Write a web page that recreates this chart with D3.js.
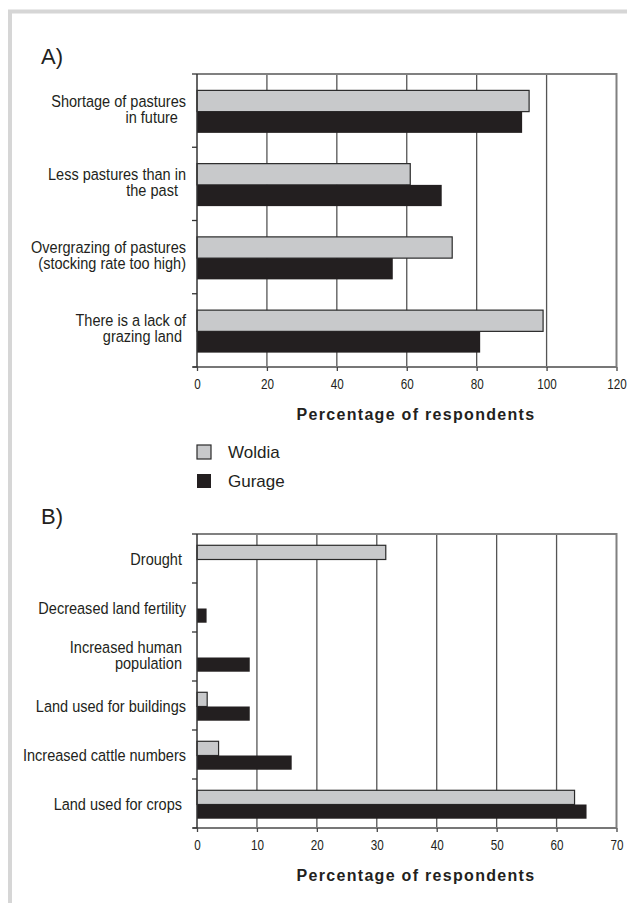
<!DOCTYPE html>
<html lang="en">
  <head>
    <meta charset="utf-8">
    <title>Pastures - Woldia / Gurage</title>
    <style>
      body { margin: 0; background: #fff; }
      text { font-family: "Liberation Sans", Arial, sans-serif; }
    </style>
  </head>
  <body>
    <div id="chart"></div>
  </body>
  <script src="https://cdn.jsdelivr.net/npm/d3@7"></script>
  <script type="text/javascript">
    // panel A
    var catsA = [
      ["Shortage of pastures", "in future\u00a0\u00a0"],
      ["Less pastures than in", "the past\u00a0\u00a0"],
      ["Overgrazing of pastures", "(stocking rate too high)"],
      ["There is a lack of", "grazing land\u00a0"]
    ];
    var woldiaA = [95, 61, 73, 99];
    var gurageA = [93, 70, 56, 81];
    var ticksA = [0, 20, 40, 60, 80, 100, 120];

    // panel B
    var catsB = [
      ["Drought\u00a0"],
      ["Decreased land fertility"],
      ["Increased human\u00a0", "population\u00a0"],
      ["Land used for buildings"],
      ["Increased cattle numbers"],
      ["Land used for crops\u00a0"]
    ];
    var woldiaB = [31.5, 0, 0, 1.7, 3.6, 63];
    var gurageB = [0, 1.6, 8.8, 8.8, 15.8, 65];
    var ticksB = [0, 10, 20, 30, 40, 50, 60, 70];

    var series = ["Woldia", "Gurage"];
    var colors = ["#c8c9cb", "#231f20"];

    var width = 627;
    var height = 903;
    var narrow = 0.855; // the original uses a condensed face

    var svg = d3.select("#chart")
      .append("svg")
      .attr("width", width)
      .attr("height", height);

    // light frame, open at right and bottom
    svg.append("path")
      .attr("d", "M10,903 V11.5 H627")
      .attr("fill", "none")
      .attr("stroke", "#d6d6d6")
      .attr("stroke-width", 4);

    function panel(opt) {
      var g = svg.append("g");
      var x = d3.scaleLinear().domain([0, opt.max]).range([197, 616.5]);
      var y = d3.scaleBand().domain(d3.range(opt.cats.length)).range([opt.top, opt.bottom]);
      var bh = y.bandwidth() * 0.29;
      var off = (y.bandwidth() - 2 * bh) / 2 + 1;

      // panel letter
      g.append("text")
        .attr("x", 41)
        .attr("y", opt.top - 10)
        .attr("font-size", 22)
        .attr("fill", "#231f20")
        .text(opt.letter);

      // grid
      g.selectAll("line.grid")
        .data(opt.ticks.slice(1, -1))
        .enter()
        .append("line")
        .attr("class", "grid")
        .attr("x1", function(d) { return x(d); })
        .attr("x2", function(d) { return x(d); })
        .attr("y1", opt.top)
        .attr("y2", opt.bottom)
        .attr("stroke", "#555")
        .attr("stroke-width", 1.3);

      // top + right border
      g.append("path")
        .attr("d", "M" + x(0) + "," + opt.top + " H" + x(opt.max) + " V" + opt.bottom)
        .attr("fill", "none")
        .attr("stroke", "#808080")
        .attr("stroke-width", 2);

      // bars
      var rows = opt.cats.map(function(c, i) { return i; });
      var vals = [opt.woldia, opt.gurage];
      for (var s = 0; s < 2; s++) {
        g.selectAll("rect.s" + s)
          .data(rows.filter(function(i) { return vals[s][i] > 0; }))
          .enter()
          .append("rect")
          .attr("class", "s" + s)
          .attr("x", x(0))
          .attr("y", function(i) { return y(i) + off + s * bh; })
          .attr("width", function(i) { return x(vals[s][i]) - x(0); })
          .attr("height", bh)
          .attr("fill", colors[s])
          .attr("stroke", s == 0 ? "#2a2a2a" : "none")
          .attr("stroke-width", 1.2);
      }

      // x axis
      var xAxis = d3.axisBottom(x)
        .tickValues(opt.ticks)
        .tickSize(4)
        .tickPadding(7)
        .tickSizeOuter(0);
      var ax = g.append("g")
        .attr("transform", "translate(0," + opt.bottom + ")")
        .call(xAxis);
      ax.select(".domain").attr("stroke", "#777").attr("stroke-width", 2)
        .attr("d", "M" + (x(0) - 4) + ",0H" + x(opt.max));
      ax.selectAll(".tick line").attr("stroke", "#444").attr("stroke-width", 1.3);
      ax.selectAll(".tick text")
        .attr("font-family", null)
        .attr("font-size", 15)
        .attr("fill", "#231f20")
        .attr("transform", "scale(0.78,1)");

      // y axis with ticks on the category boundaries
      g.append("line")
        .attr("x1", x(0)).attr("x2", x(0))
        .attr("y1", opt.top).attr("y2", opt.bottom)
        .attr("stroke", "#333")
        .attr("stroke-width", 1.5);
      var bounds = d3.range(opt.cats.length + 1).map(function(i) {
        return i < opt.cats.length ? y(i) : opt.bottom;
      });
      g.selectAll("line.ytick")
        .data(bounds)
        .enter()
        .append("line")
        .attr("class", "ytick")
        .attr("x1", x(0) - 5).attr("x2", x(0))
        .attr("y1", function(d) { return d; })
        .attr("y2", function(d) { return d; })
        .attr("stroke", "#333")
        .attr("stroke-width", 1.3);

      // category labels
      var lab = g.selectAll("text.cat")
        .data(opt.cats)
        .enter()
        .append("text")
        .attr("class", "cat")
        .attr("text-anchor", "end")
        .attr("font-size", 17)
        .attr("fill", "#231f20")
        .attr("transform", function(d, i) {
          var c = y(i) + y.bandwidth() / 2;
          var ty = d.length > 1 ? c + opt.lineUp : c + 6;
          return "translate(186," + ty + ") scale(" + narrow + ",1)";
        });
      lab.selectAll("tspan")
        .data(function(d) { return d; })
        .enter()
        .append("tspan")
        .attr("x", 0)
        .attr("dy", function(d, j) { return j == 0 ? 0 : opt.lineGap; })
        .text(function(d) { return d; });

      // axis title
      g.append("text")
        .attr("x", 416)
        .attr("y", opt.bottom + 53)
        .attr("text-anchor", "middle")
        .attr("font-size", 16)
        .attr("font-weight", "bold")
        .attr("letter-spacing", 1.3)
        .attr("fill", "#231f20")
        .text("Percentage of respondents");
    }

    panel({ letter: "A)", cats: catsA, woldia: woldiaA, gurage: gurageA, ticks: ticksA,
            max: 120, top: 74, bottom: 367, lineUp: -4, lineGap: 16 });
    panel({ letter: "B)", cats: catsB, woldia: woldiaB, gurage: gurageB, ticks: ticksB,
            max: 70, top: 534, bottom: 828, lineUp: -4, lineGap: 17 });

    // legend
    var leg = svg.append("g").attr("transform", "translate(197,445)");
    var item = leg.selectAll("g")
      .data(series)
      .enter()
      .append("g")
      .attr("transform", function(d, i) { return "translate(0," + i * 29 + ")"; });
    item.append("rect")
      .attr("width", 14)
      .attr("height", 14)
      .attr("fill", function(d, i) { return colors[i]; })
      .attr("stroke", function(d, i) { return i == 0 ? "#2a2a2a" : "none"; })
      .attr("stroke-width", 1.2);
    item.append("text")
      .attr("x", 31)
      .attr("y", 12.5)
      .attr("font-size", 17)
      .attr("fill", "#231f20")
      .text(function(d) { return d; });
  </script>
</html>
